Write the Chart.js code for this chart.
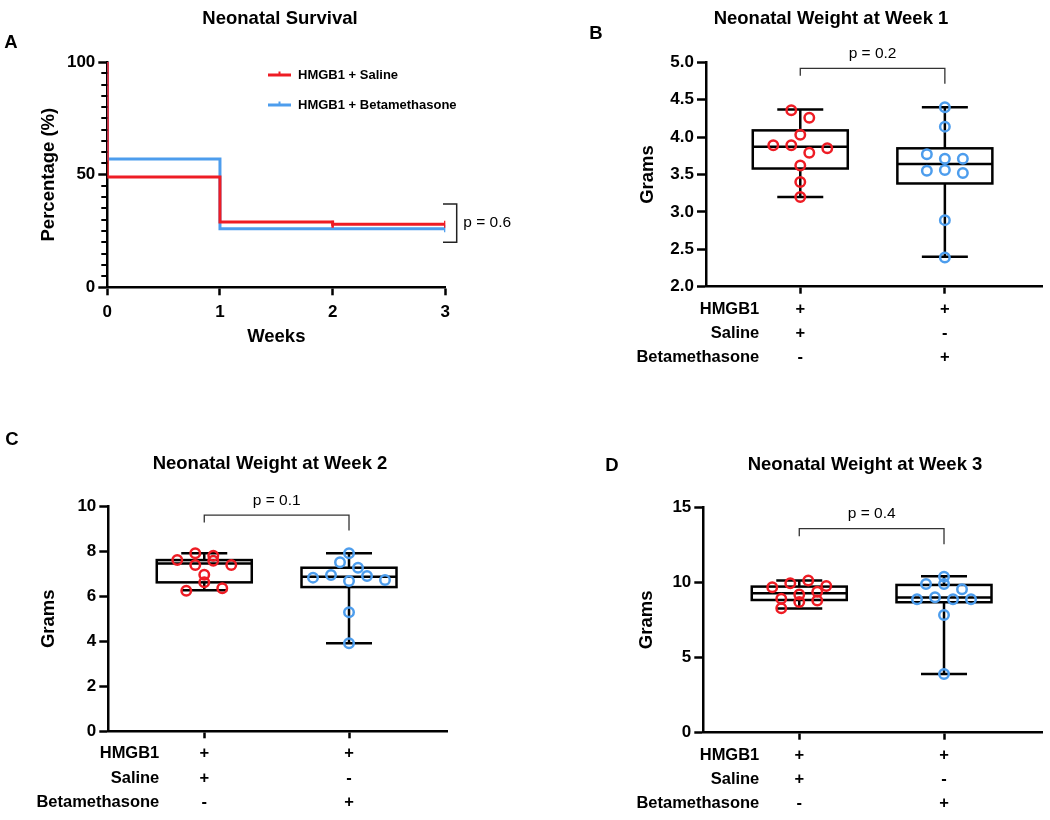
<!DOCTYPE html>
<html>
<head>
<meta charset="utf-8">
<script src="https://cdn.jsdelivr.net/npm/chart.js@4/dist/chart.umd.min.js"></script>
<style>
html,body{margin:0;padding:0;background:#fff;}
#page{position:relative;width:1050px;height:820px;overflow:hidden;background:#fff;font-family:"Liberation Sans",Arial,sans-serif;}
#page canvas{position:absolute;left:0;top:0;}
.t{position:absolute;transform:translate(-50%,-50%);white-space:nowrap;font-weight:bold;line-height:1;color:#000;}
</style>
</head>
<body>
<div id="page">
  <canvas id="chartA" width="1050" height="820"></canvas>
  <canvas id="chartB" width="1050" height="820"></canvas>
  <canvas id="chartC" width="1050" height="820"></canvas>
  <canvas id="chartD" width="1050" height="820"></canvas>
  <div class="t" style="left:11px;top:42px;font-size:18.5px">A</div>
  <div class="t" style="left:596px;top:33px;font-size:18.5px">B</div>
  <div class="t" style="left:12px;top:439px;font-size:18.5px">C</div>
  <div class="t" style="left:612px;top:465px;font-size:18.5px">D</div>
  <div class="t" style="left:280px;top:18px;font-size:18.5px">Neonatal Survival</div>
  <div class="t" style="left:831px;top:18px;font-size:18.5px">Neonatal Weight at Week 1</div>
  <div class="t" style="left:270px;top:463px;font-size:18.5px">Neonatal Weight at Week 2</div>
  <div class="t" style="left:865px;top:463.5px;font-size:18.5px">Neonatal Weight at Week 3</div>
</div>
<script>
// ---------------- DATA ----------------
// Panel A: Kaplan-Meier survival (weeks, % surviving)
const survivalWeeksSaline = [0, 0, 1, 2, 3];
const survivalSaline      = [100, 49, 29, 28, 28];
const censoredSaline      = [false, false, false, true, true];
const survivalWeeksBeta   = [0, 0, 1, 3];
const survivalBeta        = [100, 57, 26, 26];
const censoredBeta        = [false, false, false, true];
const survivalTicksX      = [0, 1, 2, 3];
const survivalPText       = 'p = 0.6';
const survivalPRange      = [20, 37];

const groupLabels    = ['HMGB1 + Saline', 'HMGB1 + Betamethasone'];
const groupPositions = [1, 2];
const conditionNames = ['HMGB1', 'Saline', 'Betamethasone'];
const conditionSaline = ['+', '+', '-'];
const conditionBeta   = ['+', '-', '+'];

// Panels B-D: individual neonatal weights (grams)
const week1Saline = [4.36, 4.26, 4.03, 3.89, 3.89, 3.79, 3.85, 3.62, 3.40, 3.20];
const week1Beta   = [4.40, 4.14, 3.77, 3.71, 3.71, 3.55, 3.56, 3.52, 2.89, 2.39];
const week2Saline = [7.61, 7.91, 7.39, 7.58, 7.80, 7.39, 6.96, 6.25, 6.62, 6.36];
const week2Beta   = [6.83, 7.51, 6.95, 7.91, 6.68, 6.90, 7.27, 6.72, 5.29, 3.91];
const week3Saline = [9.67, 9.93, 10.11, 9.75, 8.91, 9.18, 9.36, 8.27, 8.69, 8.78];
const week3Beta   = [9.89, 9.89, 10.37, 9.53, 8.87, 9.00, 8.87, 8.87, 7.83, 3.90];

// Box statistics: [min, Q1, median, Q3, max]
const week1BoxSaline = [3.20, 3.58, 3.87, 4.09, 4.37];
const week1BoxBeta   = [2.40, 3.38, 3.64, 3.85, 4.40];
const week2BoxSaline = [6.27, 6.62, 7.46, 7.61, 7.91];
const week2BoxBeta   = [3.91, 6.41, 6.87, 7.27, 7.91];
const week3BoxSaline = [8.25, 8.82, 9.27, 9.71, 10.11];
const week3BoxBeta   = [3.90, 8.67, 8.98, 9.82, 10.40];

const week1PText = 'p = 0.2', week1PY = 4.92;
const week2PText = 'p = 0.1', week2PY = 9.61;
const week3PText = 'p = 0.4', week3PY = 13.56;

// ---------------- STYLE / LAYOUT ----------------
const FONT = '"Liberation Sans", Arial, sans-serif';
const RED = '#ee1c24';
const BLUE = '#4d9ded';
const BLACK = '#000000';
const YW = 80, XH = 80;
const AXIS_TITLE_SIZE = 18.5, AXIS_TITLE_LH = AXIS_TITLE_SIZE * 1.2;
const ROW_H = 24.25, ROW_FONT = 16.5, X_TL = 7, X_PAD = 3.4;

Chart.defaults.font.family = FONT;
Chart.defaults.color = BLACK;
Chart.defaults.plugins.legend.display = false;
Chart.defaults.plugins.tooltip.enabled = false;

function layoutFor(area) {
  return { padding: { left: area.left - YW, right: 1050 - area.right, top: area.top, bottom: 820 - area.bottom - XH } };
}

function yAxis(area, o) {
  return {
    type: 'linear', position: 'left', min: o.min, max: o.max,
    ticks: { stepSize: o.step, padding: 3, font: { size: 17, weight: 'bold' }, color: BLACK,
             callback: o.fmt || (v => String(v)) },
    grid: { display: true, drawOnChartArea: false, drawTicks: true, tickLength: 9, tickWidth: 2.5, tickColor: BLACK },
    border: { display: true, width: 2.5, color: BLACK },
    title: { display: true, text: o.title, color: BLACK, font: { size: AXIS_TITLE_SIZE, weight: 'bold' },
             padding: { top: o.titleX - (area.left - YW) - AXIS_TITLE_LH / 2, bottom: 0 } },
    afterFit: s => { s.width = YW; }
  };
}

function xGroupAxis(o) {
  return {
    type: 'linear', position: 'bottom', min: o.min, max: o.max,
    afterBuildTicks: s => { s.ticks = groupPositions.map(v => ({ value: v })); },
    ticks: { padding: X_PAD, autoSkip: false, maxRotation: 0, minRotation: 0, color: BLACK,
             font: { size: ROW_FONT, weight: 'bold', lineHeight: ROW_H / ROW_FONT },
             callback: v => v === groupPositions[0] ? conditionSaline : (v === groupPositions[1] ? conditionBeta : '') },
    grid: { display: true, drawOnChartArea: false, drawTicks: true, tickLength: X_TL, tickWidth: 2.5, tickColor: BLACK },
    border: { display: true, width: 2.5, color: BLACK },
    afterFit: s => { s.height = XH; }
  };
}

// beeswarm: group points of similar value into rows, centre each row
function swarmOffsets(values, pxPerUnit, rowPx, gapPx) {
  const order = values.map((v, i) => i).sort((a, b) => values[a] - values[b] || a - b);
  const off = new Array(values.length).fill(0);
  let i = 0;
  while (i < order.length) {
    const start = values[order[i]];
    const row = [order[i]];
    let j = i + 1;
    while (j < order.length && (values[order[j]] - start) * pxPerUnit <= rowPx) { row.push(order[j]); j++; }
    row.sort((a, b) => a - b);
    row.forEach((k, r) => { off[k] = (r - (row.length - 1) / 2) * gapPx; });
    i = j;
  }
  return off;
}

const swarmPlugin = {
  id: 'swarm',
  afterDatasetsUpdate(chart) {
    const ys = chart.scales.y;
    const ppu = Math.abs(ys.getPixelForValue(1) - ys.getPixelForValue(0));
    chart.data.datasets.forEach((ds, di) => {
      const meta = chart.getDatasetMeta(di);
      const off = swarmOffsets(ds.data.map(p => p.y), ppu, 9, 18);
      meta.data.forEach((el, i) => { el.x += off[i]; });
    });
  }
};

function boxPlugin(stats) {
  return {
    id: 'boxes',
    beforeDatasetsDraw(chart) {
      const { ctx } = chart; const xs = chart.scales.x, ys = chart.scales.y;
      ctx.save();
      ctx.strokeStyle = BLACK; ctx.lineWidth = 2.5; ctx.lineCap = 'butt';
      stats.forEach((s, i) => {
        const cx = xs.getPixelForValue(groupPositions[i]);
        const [mn, q1, md, q3, mx] = s.map(v => ys.getPixelForValue(v));
        const hw = 47.5, hc = 23;
        ctx.beginPath();
        ctx.moveTo(cx, mx); ctx.lineTo(cx, q3);
        ctx.moveTo(cx, q1); ctx.lineTo(cx, mn);
        ctx.moveTo(cx - hc, mx); ctx.lineTo(cx + hc, mx);
        ctx.moveTo(cx - hc, mn); ctx.lineTo(cx + hc, mn);
        ctx.moveTo(cx - hw, md); ctx.lineTo(cx + hw, md);
        ctx.stroke();
        ctx.strokeRect(cx - hw, q3, 2 * hw, q1 - q3);
      });
      ctx.restore();
    }
  };
}

function bracketPlugin(pY, pText, headerRight) {
  return {
    id: 'bracket',
    afterDraw(chart) {
      const { ctx } = chart; const xs = chart.scales.x, ys = chart.scales.y;
      const x1 = xs.getPixelForValue(groupPositions[0]), x2 = xs.getPixelForValue(groupPositions[1]);
      const y = ys.getPixelForValue(pY);
      ctx.save();
      ctx.strokeStyle = '#333'; ctx.lineWidth = 1.3;
      ctx.beginPath();
      ctx.moveTo(x1, y + 7.5); ctx.lineTo(x1, y); ctx.lineTo(x2, y); ctx.lineTo(x2, y + 15.5);
      ctx.stroke();
      ctx.fillStyle = BLACK; ctx.font = '15.5px ' + FONT;
      ctx.textAlign = 'center'; ctx.textBaseline = 'middle';
      ctx.fillText(pText, (x1 + x2) / 2, y - 14.5);
      // condition row headers, aligned with the x tick label lines
      ctx.font = 'bold ' + ROW_FONT + 'px ' + FONT;
      ctx.textAlign = 'right';
      conditionNames.forEach((n, i) => {
        ctx.fillText(n, headerRight, xs.top + X_TL + X_PAD + ROW_H * (i + 0.5));
      });
      ctx.restore();
    }
  };
}

function pointDataset(label, values, color) {
  return {
    label, data: values.map(v => ({ x: groupPositions[label === groupLabels[0] ? 0 : 1], y: v })),
    pointStyle: 'circle', pointRadius: 4.75, pointBorderWidth: 2.5,
    pointBorderColor: color, pointBackgroundColor: 'rgba(0,0,0,0)', borderColor: color,
    showLine: false, clip: false
  };
}

function makeBoxChart(id, o) {
  return new Chart(document.getElementById(id), {
    type: 'scatter',
    data: { datasets: [
      pointDataset(groupLabels[0], o.saline, RED),
      pointDataset(groupLabels[1], o.beta, BLUE)
    ] },
    options: {
      responsive: false, animation: false, devicePixelRatio: 1, events: [],
      layout: layoutFor(o.area),
      scales: {
        x: xGroupAxis({ min: o.xMin, max: o.xMax }),
        y: yAxis(o.area, { min: o.yMin, max: o.yMax, step: o.yStep, fmt: o.yFmt, title: 'Grams', titleX: o.titleX })
      }
    },
    plugins: [swarmPlugin, boxPlugin(o.boxes), bracketPlugin(o.pY, o.pText, o.headerRight)]
  });
}

// ---------------- PANEL A ----------------
const areaA = { left: 107.3, right: 445.3, top: 62, bottom: 287.3 };
const kmExtras = {
  id: 'kmExtras',
  afterDraw(chart) {
    const { ctx, chartArea: ca } = chart; const xs = chart.scales.x, ys = chart.scales.y;
    ctx.save();
    // minor ticks every 5 %
    ctx.strokeStyle = BLACK; ctx.lineWidth = 2;
    ctx.beginPath();
    for (let v = 5; v < 100; v += 5) {
      if (v % 50 === 0) continue;
      const y = Math.round(ys.getPixelForValue(v)) + 0.0;
      ctx.moveTo(ca.left - 6, y); ctx.lineTo(ca.left, y);
    }
    ctx.stroke();
    // legend
    chart.data.datasets.forEach((ds, i) => {
      const y = 75 + i * 30;
      ctx.strokeStyle = ds.borderColor; ctx.lineWidth = 3;
      ctx.beginPath(); ctx.moveTo(268, y); ctx.lineTo(291, y); ctx.stroke();
      ctx.lineWidth = 2;
      ctx.beginPath(); ctx.moveTo(279.5, y - 3.5); ctx.lineTo(279.5, y); ctx.stroke();
      ctx.fillStyle = BLACK; ctx.font = 'bold 13px ' + FONT;
      ctx.textAlign = 'left'; ctx.textBaseline = 'middle';
      ctx.fillText(ds.label, 298, y);
    });
    // p-value bracket
    const xr = xs.getPixelForValue(survivalTicksX[survivalTicksX.length - 1]);
    const yTop = ys.getPixelForValue(survivalPRange[1]), yBot = ys.getPixelForValue(survivalPRange[0]);
    ctx.strokeStyle = '#222'; ctx.lineWidth = 1.5;
    ctx.beginPath();
    ctx.moveTo(xr - 2.3, yTop); ctx.lineTo(xr + 11.4, yTop); ctx.lineTo(xr + 11.4, yBot); ctx.lineTo(xr - 2.3, yBot);
    ctx.stroke();
    ctx.fillStyle = BLACK; ctx.font = '15.5px ' + FONT; ctx.textAlign = 'left'; ctx.textBaseline = 'middle';
    ctx.fillText(survivalPText, xr + 18, (yTop + yBot) / 2);
    ctx.restore();
  }
};

new Chart(document.getElementById('chartA'), {
  type: 'scatter',
  data: { datasets: [
    { label: groupLabels[0], data: survivalWeeksSaline.map((w, i) => ({ x: w, y: survivalSaline[i] })),
      showLine: true, stepped: 'before', borderColor: RED, borderWidth: 3, fill: false,
      pointStyle: 'line', rotation: 90, pointRadius: c => censoredSaline[c.dataIndex] ? 3.5 : 0,
      pointBorderWidth: 2.5, pointBorderColor: RED, pointBackgroundColor: RED },
    { label: groupLabels[1], data: survivalWeeksBeta.map((w, i) => ({ x: w, y: survivalBeta[i] })),
      showLine: true, stepped: 'before', borderColor: BLUE, borderWidth: 3, fill: false,
      pointStyle: 'line', rotation: 90, pointRadius: c => censoredBeta[c.dataIndex] ? 3.5 : 0,
      pointBorderWidth: 2.5, pointBorderColor: BLUE, pointBackgroundColor: BLUE }
  ] },
  options: {
    responsive: false, animation: false, devicePixelRatio: 1, events: [],
    layout: layoutFor(areaA),
    scales: {
      x: {
        type: 'linear', position: 'bottom', min: survivalTicksX[0], max: survivalTicksX[survivalTicksX.length - 1],
        afterBuildTicks: s => { s.ticks = survivalTicksX.map(v => ({ value: v })); },
        ticks: { padding: 6.5, font: { size: 17, weight: 'bold' }, color: BLACK, maxRotation: 0 },
        grid: { display: true, drawOnChartArea: false, drawTicks: true, tickLength: 8, tickWidth: 2.5, tickColor: BLACK },
        border: { display: true, width: 2.5, color: BLACK },
        title: { display: true, text: 'Weeks', color: BLACK, font: { size: AXIS_TITLE_SIZE, weight: 'bold' },
                 padding: { top: 0, bottom: (areaA.bottom + XH) - 337 - AXIS_TITLE_LH / 2 } },
        afterFit: s => { s.height = XH; }
      },
      y: yAxis(areaA, { min: 0, max: 100, step: 50, title: 'Percentage (%)', titleX: 49 })
    }
  },
  plugins: [kmExtras]
});

// ---------------- PANELS B-D ----------------
makeBoxChart('chartB', {
  area: { left: 706, right: 1043, top: 62.3, bottom: 286.7 },
  xMin: 0.348, xMax: 2.677, yMin: 2, yMax: 5, yStep: 0.5, yFmt: v => v.toFixed(1), titleX: 648,
  saline: week1Saline, beta: week1Beta, boxes: [week1BoxSaline, week1BoxBeta],
  pY: week1PY, pText: week1PText, headerRight: 759.3
});
makeBoxChart('chartC', {
  area: { left: 108.3, right: 447, top: 506.3, bottom: 731.3 },
  xMin: 0.337, xMax: 2.677, yMin: 0, yMax: 10, yStep: 2, titleX: 49.3,
  saline: week2Saline, beta: week2Beta, boxes: [week2BoxSaline, week2BoxBeta],
  pY: week2PY, pText: week2PText, headerRight: 159.3
});
makeBoxChart('chartD', {
  area: { left: 703.3, right: 1042, top: 507, bottom: 732.7 },
  xMin: 0.337, xMax: 2.677, yMin: 0, yMax: 15, yStep: 5, titleX: 646.7,
  saline: week3Saline, beta: week3Beta, boxes: [week3BoxSaline, week3BoxBeta],
  pY: week3PY, pText: week3PText, headerRight: 759.3
});
</script>
</body>
</html>
